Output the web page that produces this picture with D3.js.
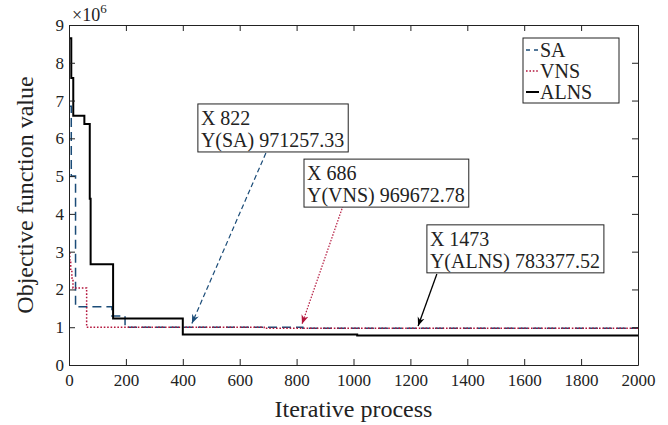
<!DOCTYPE html>
<html>
<head>
<meta charset="utf-8">
<script src="https://cdn.jsdelivr.net/npm/d3@7"></script>
<style>
  body { margin: 0; background: #fff; }
  text { font-family: "Liberation Serif", "Times New Roman", serif; fill: #222; }
</style>
</head>
<body>
<svg id="chart" width="668" height="425" font-family="Liberation Serif, serif"></svg>
<script>
// data (values are raw objective values)
var xTicks = [0, 200, 400, 600, 800, 1000, 1200, 1400, 1600, 1800, 2000];
var yTicks = [0, 1e6, 2e6, 3e6, 4e6, 5e6, 6e6, 7e6, 8e6, 9e6];

var saIter = [0, 8, 23, 151, 197, 822, 2000];
var saVal = [6850000, 5000000, 1540000, 1300000, 1000000, 971257.33, 971257.33];

var vnsIter = [0, 3, 6, 10, 14, 62, 686, 2000];
var vnsVal = [2960000, 2720000, 2500000, 2300000, 2040000, 1000000, 969672.78, 969672.78];

var alnsIter = [0, 8, 15, 54, 73, 76, 155, 400, 1013, 2000];
var alnsVal = [8650000, 7600000, 6600000, 6380000, 4400000, 2670000, 1230000, 810000, 783377.52, 783377.52];

// data tips
var noteNames = ["SA", "VNS", "ALNS"];
var noteIter = [822, 686, 1473];
var noteVal = ["971257.33", "969672.78", "783377.52"];
// box top-left and arrow tail/tip, in data units
var boxIter = [453, 826, 1258];
var boxVal = [6910000, 5450000, 3710000];
var tailIter = [692, 963, 1293];
var tailVal = [5610000, 4210000, 2410000];
var tipIter = [432, 819, 1227];
var tipVal = [1100000, 1085000, 1030000];

var colors = { SA: "#1b4c78", VNS: "#b3163c", ALNS: "#000" };
var dashes = { SA: "9,5", VNS: "1.6,1.8", ALNS: null };
var widths = { SA: 1.5, VNS: 1.5, ALNS: 2 };

var svg = d3.select("#chart");
var margin = { top: 25, right: 30, bottom: 60, left: 69 };
var width = 668 - margin.left - margin.right;
var height = 425 - margin.top - margin.bottom;
var g = svg.append("g").attr("transform", "translate(" + margin.left + "," + margin.top + ")");

var x = d3.scaleLinear().domain([0, 2000]).range([0, width]);
var y = d3.scaleLinear().domain([0, 9e6]).range([height, 0]);

// series
var series = [
  { name: "SA", pts: d3.zip(saIter, saVal) },
  { name: "VNS", pts: d3.zip(vnsIter, vnsVal) },
  { name: "ALNS", pts: d3.zip(alnsIter, alnsVal) }
];

var line = d3.line()
  .x(function(d) { return x(d[0]); })
  .y(function(d) { return y(d[1]); })
  .curve(d3.curveStepAfter);

g.selectAll(".series")
  .data(series)
  .enter().append("path")
    .attr("class", "series")
    .attr("d", function(d) { return line(d.pts); })
    .attr("fill", "none")
    .attr("stroke", function(d) { return colors[d.name]; })
    .attr("stroke-width", function(d) { return widths[d.name]; })
    .attr("stroke-dasharray", function(d) { return dashes[d.name]; });

// axes, MATLAB style box with inward ticks
var tickLen = 6;
function axisText(a) {
  a.attr("font-family", "Liberation Serif, serif");
  a.selectAll("text").attr("font-size", 17).attr("fill", "#222");
}
g.append("g").attr("transform", "translate(0," + height + ")")
  .call(d3.axisBottom(x).tickValues(xTicks).tickFormat(d3.format("d"))
    .tickSizeInner(-tickLen).tickSizeOuter(0).tickPadding(9))
  .call(axisText);
g.append("g")
  .call(d3.axisLeft(y).tickValues(yTicks).tickFormat(function(d) { return d / 1e6; })
    .tickSizeInner(-tickLen).tickSizeOuter(0).tickPadding(5))
  .call(axisText);
g.append("g")
  .call(d3.axisTop(x).tickValues(xTicks).tickSizeInner(-tickLen).tickSizeOuter(0).tickFormat(""));
g.append("g").attr("transform", "translate(" + width + ",0)")
  .call(d3.axisRight(y).tickValues(yTicks).tickSizeInner(-tickLen).tickSizeOuter(0).tickFormat(""));
g.selectAll(".domain").attr("stroke", "#222");
g.selectAll(".tick line").attr("stroke", "#222");

// exponent
var ex = g.append("text").attr("x", 3).attr("y", -4).attr("font-size", 18);
ex.append("tspan").text("\u00d710");
ex.append("tspan").attr("font-size", 13).attr("dy", -8).text("6");

// axis titles
svg.append("text")
  .attr("x", margin.left + width / 2).attr("y", 417)
  .attr("text-anchor", "middle").attr("font-size", 24)
  .text("Iterative process");
svg.append("text")
  .attr("transform", "translate(33," + (margin.top + height / 2) + ") rotate(-90)")
  .attr("text-anchor", "middle").attr("font-size", 24)
  .text("Objective function value");

// arrows
var defs = svg.append("defs");
noteNames.forEach(function(n) {
  defs.append("marker")
    .attr("id", "head-" + n)
    .attr("viewBox", "0 0 10 10").attr("refX", 10).attr("refY", 5)
    .attr("markerWidth", 9).attr("markerHeight", 9).attr("markerUnits", "userSpaceOnUse")
    .attr("orient", "auto")
    .append("path").attr("d", "M0,1 L10,5 L0,9 L3,5 Z").attr("fill", colors[n]);
});

noteNames.forEach(function(n, i) {
  g.append("line")
    .attr("x1", x(tailIter[i])).attr("y1", y(tailVal[i]))
    .attr("x2", x(tipIter[i])).attr("y2", y(tipVal[i]))
    .attr("stroke", colors[n]).attr("stroke-width", n == "ALNS" ? 1.3 : 1.2)
    .attr("stroke-dasharray", n == "SA" ? "5,3" : (n == "VNS" ? "1.5,1.5" : null))
    .attr("marker-end", "url(#head-" + n + ")");
});

// data tip boxes
noteNames.forEach(function(n, i) {
  var bx = x(boxIter[i]), by = y(boxVal[i]);
  var box = g.append("g").attr("transform", "translate(" + bx + "," + by + ")");
  var rect = box.append("rect").attr("fill", "#fff").attr("stroke", "#222").attr("stroke-width", 1);
  var t1 = box.append("text").attr("x", 3).attr("y", 21).attr("font-size", 20).text("X " + noteIter[i]);
  var t2 = box.append("text").attr("x", 3).attr("y", 43).attr("font-size", 20).text("Y(" + n + ") " + noteVal[i]);
  var w = Math.max(t1.node().getComputedTextLength(), t2.node().getComputedTextLength()) + 7;
  rect.attr("width", w).attr("height", 48);
});

// legend
var lg = g.append("g").attr("transform", "translate(" + (width - 115) + ",13)");
lg.append("rect").attr("width", 96).attr("height", 65).attr("fill", "#fff").attr("stroke", "#222");
series.forEach(function(s, i) {
  var row = lg.append("g").attr("transform", "translate(0," + (12 + i * 21) + ")");
  row.append("line").attr("x1", 3).attr("x2", 16).attr("y1", 0).attr("y2", 0)
    .attr("stroke", colors[s.name]).attr("stroke-width", widths[s.name])
    .attr("stroke-dasharray", s.name == "SA" ? "4,4" : dashes[s.name]);
  row.append("text").attr("x", 17).attr("y", 7).attr("font-size", 20).text(s.name);
});
</script>
</body>
</html>
